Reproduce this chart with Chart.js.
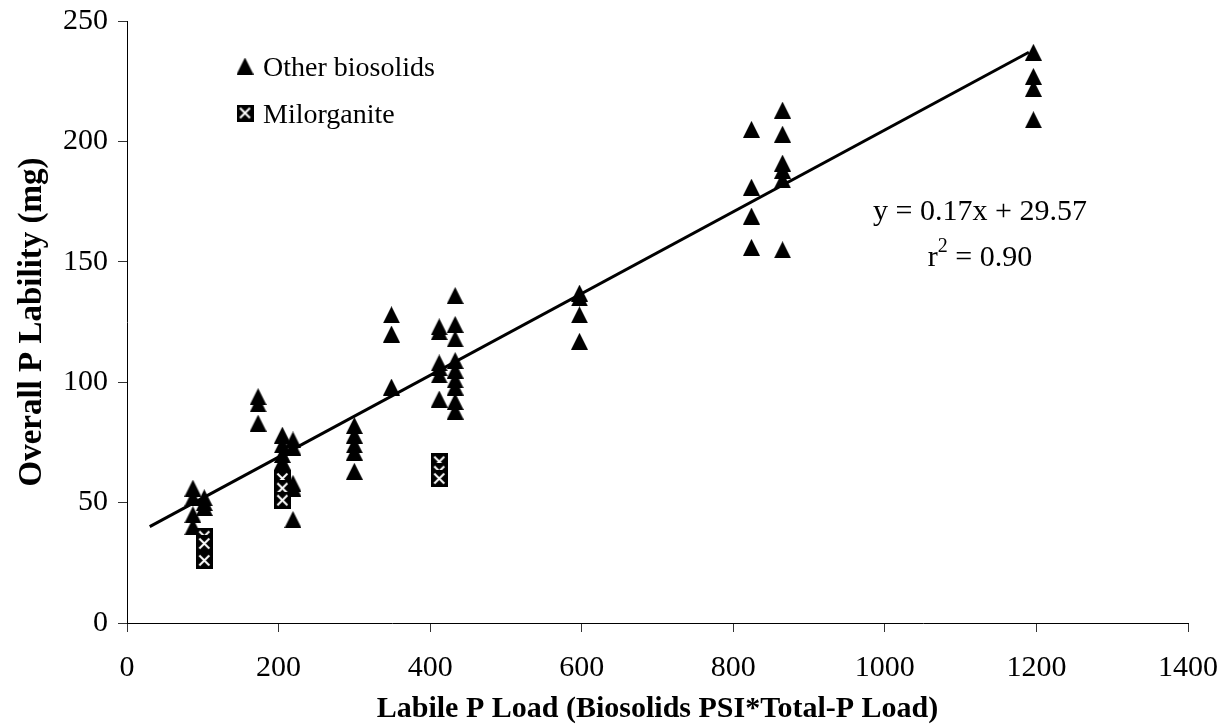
<!DOCTYPE html>
<html><head><meta charset="utf-8">
<script src="https://cdn.jsdelivr.net/npm/chart.js@4.4.0/dist/chart.umd.min.js"></script>
<style>html,body{margin:0;padding:0;background:#fff;}</style>
</head><body>
<canvas id="c" width="1224" height="727"></canvas>
<script>
// ---- data ----
const xTicks = [0, 200, 400, 600, 800, 1000, 1200, 1400];
const yTicks = [0, 50, 100, 150, 200, 250];

const otherLoad = [
  87, 87, 87, 87,
  102, 102, 102,
  173, 173, 173,
  205, 205, 205, 205, 205,
  219, 219, 219, 219, 219,
  300, 300, 300, 300, 300,
  349, 349, 349,
  412, 412, 412, 412, 412, 412,
  433, 433, 433, 433, 433, 433, 433, 433, 433,
  597, 597, 597, 597,
  824, 824, 824, 824,
  865, 865, 865, 865, 865, 865,
  1196, 1196, 1196, 1196
];
const otherLability = [
  56, 52, 45, 40,
  52, 50, 48,
  94, 91, 83,
  78, 74, 70, 67, 65,
  76, 73, 58, 56, 43,
  82, 78, 74, 71, 63,
  128, 120, 98,
  123, 121, 108, 106, 103, 93,
  136, 124, 118, 109, 105, 101, 98, 92, 88,
  137, 135, 128, 117,
  205, 181, 169, 156,
  213, 203, 191, 188, 184, 155,
  237, 227, 222, 209
];
const milorganiteLoad = [102, 102, 102, 205, 205, 205, 412, 412, 412];
const milorganiteLability = [36, 33, 26, 60, 56, 51, 67, 63, 60];

const trendLoad = [30, 1190];
const trendLability = [40, 237];

const seriesNames = ['Other biosolids', 'Milorganite'];
const xTitle = 'Labile P Load (Biosolids PSI*Total-P Load)';
const yTitle = 'Overall P Lability (mg)';
const eqLine1 = 'y = 0.17x + 29.57';
const eqR = 'r';
const eqSup = '2';
const eqLine2Rest = ' = 0.90';

// ---- markers ----
const FONT = "'Liberation Serif', 'Times New Roman', serif";
function triMarker() {
  const c = document.createElement('canvas'); c.width = 17; c.height = 17;
  const g = c.getContext('2d');
  g.fillStyle = '#000';
  g.beginPath(); g.moveTo(8.5, 0); g.lineTo(17, 17); g.lineTo(0, 17); g.closePath(); g.fill();
  return c;
}
function boxMarker() {
  const c = document.createElement('canvas'); c.width = 17; c.height = 17;
  const g = c.getContext('2d');
  g.fillStyle = '#000'; g.fillRect(0, 0, 17, 17);
  g.strokeStyle = '#fff'; g.lineWidth = 2;
  g.beginPath(); g.moveTo(3.5, 3.5); g.lineTo(13.5, 13.5); g.moveTo(13.5, 3.5); g.lineTo(3.5, 13.5); g.stroke();
  return c;
}
const TRI = triMarker(), BOX = boxMarker();

const toPts = (xs, ys) => xs.map((x, i) => ({x: x, y: ys[i]}));

const overlay = {
  id: 'overlay',
  afterDraw(chart) {
    const ctx = chart.ctx;
    ctx.save();
    ctx.fillStyle = '#000';
    // legend
    ctx.drawImage(TRI, 245 - 8.5, 66 - 8.5);
    ctx.drawImage(BOX, 245 - 8.5, 113 - 8.5);
    ctx.font = '28px ' + FONT;
    ctx.textAlign = 'left'; ctx.textBaseline = 'alphabetic';
    ctx.fillText(seriesNames[0], 263, 76);
    ctx.fillText(seriesNames[1], 263, 123);
    // equation
    ctx.font = '30px ' + FONT;
    ctx.textAlign = 'center';
    ctx.fillText(eqLine1, 980, 220);
    const wR = ctx.measureText(eqR).width;
    const wRest = ctx.measureText(eqLine2Rest).width;
    ctx.font = '20px ' + FONT;
    const wS = ctx.measureText(eqSup).width;
    const total = wR + wS + wRest;
    let x0 = 980 - total / 2;
    ctx.textAlign = 'left';
    ctx.font = '30px ' + FONT;
    ctx.fillText(eqR, x0, 266);
    ctx.font = '20px ' + FONT;
    ctx.fillText(eqSup, x0 + wR, 252);
    ctx.font = '30px ' + FONT;
    ctx.fillText(eqLine2Rest, x0 + wR + wS, 266);
    ctx.restore();
  }
};

new Chart(document.getElementById('c'), {
  type: 'scatter',
  data: {
    datasets: [
      { label: 'Trend', type: 'line', data: toPts(trendLoad, trendLability),
        borderColor: '#000', borderWidth: 3, pointRadius: 0, fill: false, order: 3 },
      { label: seriesNames[0], data: toPts(otherLoad, otherLability),
        pointStyle: TRI, pointRadius: 9, order: 2 },
      { label: seriesNames[1], data: toPts(milorganiteLoad, milorganiteLability),
        pointStyle: BOX, pointRadius: 9, order: 1 }
    ]
  },
  options: {
    responsive: false,
    animation: false,
    devicePixelRatio: 1,
    layout: { padding: { top: 21, right: 36, left: 0, bottom: 0 } },
    plugins: { legend: { display: false }, tooltip: { enabled: false } },
    scales: {
      x: {
        type: 'linear', min: 0, max: 1400,
        afterBuildTicks: s => { s.ticks = xTicks.map(v => ({value: v})); },
        afterFit: s => { s.height = 104; s.paddingLeft = 0; s.paddingRight = 0; },
        ticks: { color: '#000', font: { family: FONT, size: 30 }, padding: 18, maxRotation: 0,
          callback: v => String(v) },
        grid: { drawOnChartArea: false, drawTicks: true, tickLength: 9, color: '#333' },
        border: { color: '#000', width: 1 },
        title: { display: true, text: xTitle, color: '#000',
          font: { family: FONT, size: 30, weight: 'bold', lineHeight: 1 }, padding: { top: 0, bottom: 3 } }
      },
      y: {
        type: 'linear', min: 0, max: 250,
        afterBuildTicks: s => { s.ticks = yTicks.map(v => ({value: v})); },
        afterFit: s => { s.width = 127; s.paddingTop = 0; s.paddingBottom = 0; },
        ticks: { color: '#000', font: { family: FONT, size: 30 }, padding: 10,
          callback: v => String(v) },
        grid: { drawOnChartArea: false, drawTicks: true, tickLength: 9, color: '#333' },
        border: { color: '#000', width: 1 },
        title: { display: true, text: yTitle, color: '#000',
          font: { family: FONT, size: 33, weight: 'bold', lineHeight: 1 }, padding: { top: 16, bottom: 0 } }
      }
    }
  },
  plugins: [overlay]
});
</script>
</body></html>
